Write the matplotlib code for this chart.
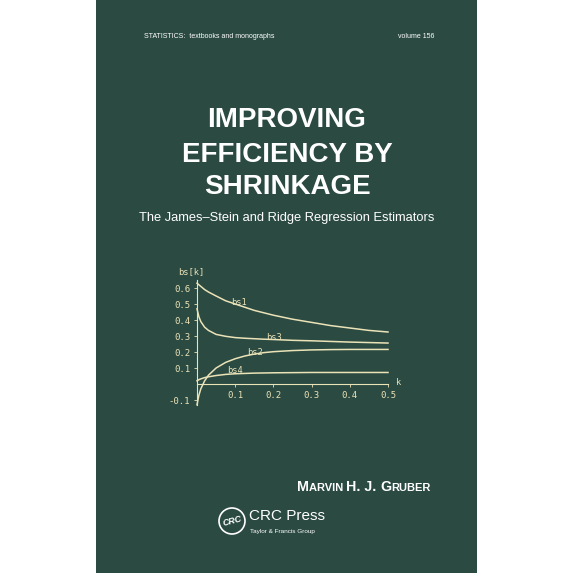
import matplotlib
matplotlib.use("Agg")
import matplotlib.pyplot as plt
from matplotlib.patches import Rectangle, Circle

k = [0.0, 0.005, 0.01, 0.02, 0.03, 0.05, 0.075, 0.1, 0.125, 0.15, 0.175, 0.2, 0.25, 0.3, 0.35, 0.4, 0.45, 0.5]
bs1 = [0.63, 0.62, 0.61, 0.59, 0.575, 0.55, 0.52, 0.50, 0.48, 0.46, 0.445, 0.43, 0.405, 0.385, 0.365, 0.35, 0.335, 0.325]
bs2 = [-0.13, -0.07, -0.03, 0.02, 0.055, 0.10, 0.135, 0.158, 0.175, 0.187, 0.196, 0.202, 0.209, 0.213, 0.215, 0.216, 0.216, 0.216]
bs3 = [0.47, 0.42, 0.39, 0.355, 0.335, 0.31, 0.298, 0.29, 0.286, 0.283, 0.28, 0.278, 0.273, 0.27, 0.266, 0.262, 0.259, 0.256]
bs4 = [0.02, 0.027, 0.032, 0.04, 0.045, 0.053, 0.06, 0.064, 0.066, 0.068, 0.069, 0.07, 0.071, 0.072, 0.072, 0.072, 0.072, 0.072]
xticks = [0.1, 0.2, 0.3, 0.4, 0.5]
yticks = [-0.1, 0.1, 0.2, 0.3, 0.4, 0.5, 0.6]

BG = "#2b4a42"
FG = "#ebe3b8"
W = 573.0
SANS = "Liberation Sans"

fig = plt.figure(figsize=(5.73, 5.73), dpi=100)
fig.patch.set_facecolor("white")
fig.patches.append(Rectangle((96/W, 0), (477-96)/W, 1, transform=fig.transFigure,
                             facecolor=BG, edgecolor="none", zorder=-5))

def t(x, y, s, **kw):
    kw.setdefault("family", SANS)
    return fig.text(x/W, 1-y/W, s, **kw)

t(144, 36, "STATISTICS:  textbooks and monographs", color="white", fontsize=5, ha="left", va="center")
t(398, 36, "volume 156", color="white", fontsize=5, ha="left", va="center")
for yy, s in [(120, "IMPROVING"), (155, "EFFICIENCY BY"), (187, "SHRINKAGE")]:
    t(287, yy, s, color="white", fontsize=20, fontweight="bold", ha="center", va="center")
t(287, 218, "The James\u2013Stein and Ridge Regression Estimators", color="white",
  fontsize=9.3, ha="center", va="center")

fig.canvas.draw()
r = fig.canvas.get_renderer()
x = 297.0
for s, fs in [("M", 10.3), ("ARVIN ", 8.0), ("H. J. ", 10.3), ("G", 10.3), ("RUBER", 8.0)]:
    tx = t(x, 491, s, color="white", fontsize=fs, fontweight="bold", ha="left", va="baseline")
    x += tx.get_window_extent(r).width

fig.patches.append(Circle((232/W, 1-521/W), 13/W, transform=fig.transFigure,
                          facecolor="none", edgecolor="white", linewidth=1.2))
t(232, 521, "CRC", color="white", fontsize=6.5, fontstyle="italic", fontweight="bold",
  ha="center", va="center", rotation=15)
t(249, 516, "CRC Press", color="white", fontsize=11, ha="left", va="center")
t(250, 531, "Taylor & Francis Group", color="white", fontsize=4.6, ha="left", va="center")

ax = fig.add_axes([197/W, 1-404.8/W, 191/W, 124.8/W])
ax.set_facecolor("none")
ax.set_xlim(0, 0.5)
ax.set_ylim(-0.13, 0.65)
for y, lab, xl, yl in [(bs1, "bs1", 0.09, 0.51), (bs2, "bs2", 0.13, 0.195),
                       (bs3, "bs3", 0.18, 0.29), (bs4, "bs4", 0.08, 0.085)]:
    ax.plot(k, y, color=FG, lw=1.1, clip_on=False)
    ax.text(xl, yl, lab, color=FG, fontsize=6.3, family="DejaVu Sans Mono", va="center")
for s in ["top", "right"]:
    ax.spines[s].set_visible(False)
ax.spines["left"].set_position(("data", 0))
ax.spines["bottom"].set_position(("data", 0))
for s in ["left", "bottom"]:
    ax.spines[s].set_color(FG)
    ax.spines[s].set_linewidth(0.8)
ax.set_xticks(xticks)
ax.set_xticklabels([f"{v:g}" for v in xticks])
ax.set_yticks(yticks)
ax.set_yticklabels([f"{v:g}" for v in yticks])
ax.tick_params(colors=FG, labelsize=6.5, length=2, width=0.6, pad=3)
for lb in ax.get_xticklabels() + ax.get_yticklabels():
    lb.set_family("DejaVu Sans Mono")
ax.text(-0.05, 0.70, "bs[k]", color=FG, fontsize=6.3, family="DejaVu Sans Mono", va="center", ha="left")
ax.text(0.52, 0.01, "k", color=FG, fontsize=6.3, family="DejaVu Sans Mono", va="center", ha="left")

fig.savefig("out.png", dpi=100, facecolor=fig.get_facecolor())
